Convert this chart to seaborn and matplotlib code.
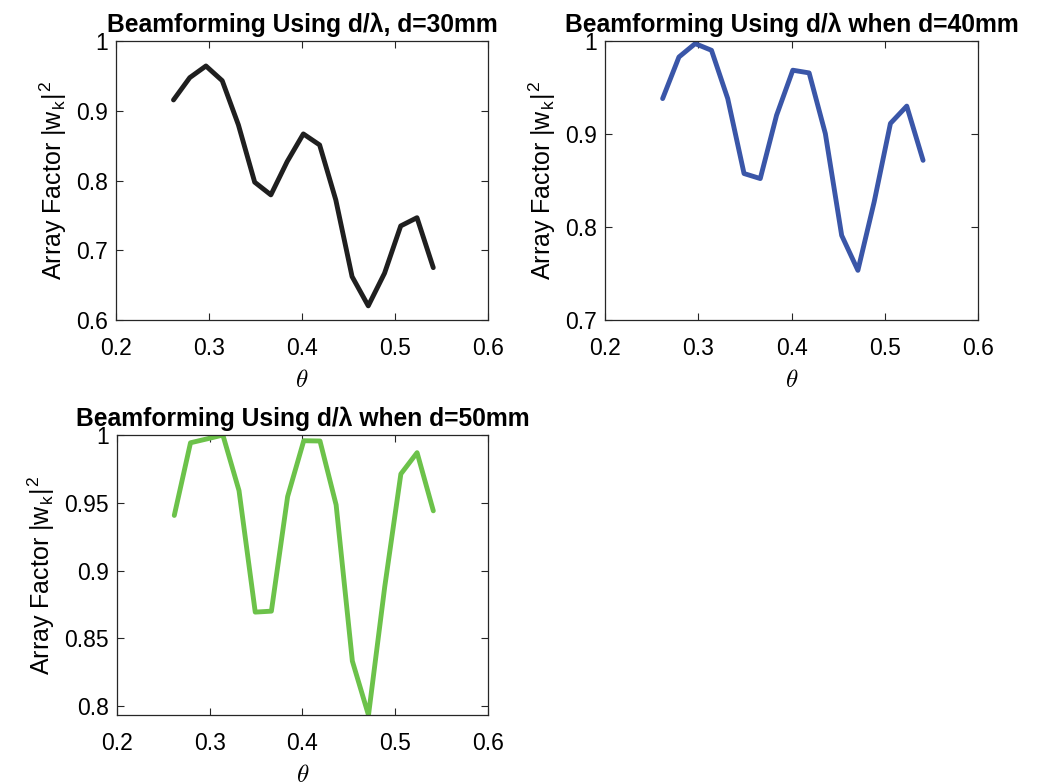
"""Array factor vs steering angle for three element spacings."""

import matplotlib
matplotlib.use("Agg")
import matplotlib.pyplot as plt
import pandas as pd
import seaborn as sns

# steering angle (rad), 15..31 degrees
theta = [0.2618, 0.2793, 0.2967, 0.3142, 0.3316, 0.3491, 0.3665, 0.3840, 0.4014,
         0.4189, 0.4363, 0.4538, 0.4712, 0.4887, 0.5061, 0.5236, 0.5411]

af_30mm = [0.9155, 0.9475, 0.9642, 0.9431, 0.8797, 0.7976, 0.7794, 0.8271, 0.8668,
           0.8510, 0.7722, 0.6623, 0.6203, 0.6671, 0.7349, 0.7467, 0.6751]
af_40mm = [0.9381, 0.9828, 0.9972, 0.9900, 0.9381, 0.8575, 0.8521, 0.9202, 0.9686,
           0.9657, 0.9004, 0.7910, 0.7534, 0.8272, 0.9114, 0.9300, 0.8717]
af_50mm = [0.9407, 0.9943, 0.9971, 1.0000, 0.9590, 0.8694, 0.8701, 0.9546, 0.9958,
           0.9956, 0.9485, 0.8333, 0.7934, 0.8880, 0.9713, 0.9870, 0.9441]

titles = [
    "Beamforming Using d/λ, d=30mm",
    "Beamforming Using d/λ when d=40mm",
    "Beamforming Using d/λ when d=50mm",
]
colors = ["#1f1f1f", "#3a56a8", "#6cc24a"]
y_limits = [(0.6, 1.0), (0.7, 1.0), (0.7935, 1.0)]
y_ticks = [
    [0.6, 0.7, 0.8, 0.9, 1.0],
    [0.7, 0.8, 0.9, 1.0],
    [0.8, 0.85, 0.9, 0.95, 1.0],
]
y_ticklabels = [
    ["0.6", "0.7", "0.8", "0.9", "1"],
    ["0.7", "0.8", "0.9", "1"],
    ["0.8", "0.85", "0.9", "0.95", "1"],
]
x_ticks = [0.2, 0.3, 0.4, 0.5, 0.6]
x_ticklabels = ["0.2", "0.3", "0.4", "0.5", "0.6"]

sns.set_style("ticks")
plt.rcParams["font.family"] = ["Liberation Sans", "DejaVu Sans"]
plt.rcParams["mathtext.fontset"] = "cm"
plt.rcParams["text.color"] = "black"
plt.rcParams["axes.labelcolor"] = "black"

df = pd.DataFrame({"theta": theta, "30mm": af_30mm, "40mm": af_40mm, "50mm": af_50mm})

fig = plt.figure(figsize=(10.48, 7.84), dpi=100)
positions = [
    [0.1107, 0.5918, 0.3550, 0.3559],
    [0.5773, 0.5918, 0.3559, 0.3559],
    [0.1116, 0.0880, 0.3540, 0.3571],
]

for i, col in enumerate(["30mm", "40mm", "50mm"]):
    ax = fig.add_axes(positions[i])
    sns.lineplot(data=df, x="theta", y=col, ax=ax, color=colors[i], linewidth=3.5)
    ax.set_xlim(0.2, 0.6)
    ax.set_ylim(*y_limits[i])
    ax.set_xticks(x_ticks)
    ax.set_xticklabels(x_ticklabels)
    ax.set_yticks(y_ticks[i])
    ax.set_yticklabels(y_ticklabels[i])
    ax.tick_params(direction="in", top=True, right=True, length=5, width=0.8,
                   labelsize=16.5, colors="#262626", labelcolor="black")
    ax.tick_params(axis="x", pad=12)
    ax.tick_params(axis="y", pad=6)
    for s in ax.spines.values():
        s.set_linewidth(0.9)
        s.set_color("#262626")
    ax.set_xlabel(r"$\theta$", fontsize=18, labelpad=6)
    ax.set_ylabel(r"Array Factor |w$_\mathregular{k}$|$^\mathregular{2}$",
                  fontsize=18, labelpad=5)
    ax.set_title(titles[i], fontsize=17.7, fontweight="bold", pad=6.5, color="black")

fig.savefig("out.png", dpi=100)
